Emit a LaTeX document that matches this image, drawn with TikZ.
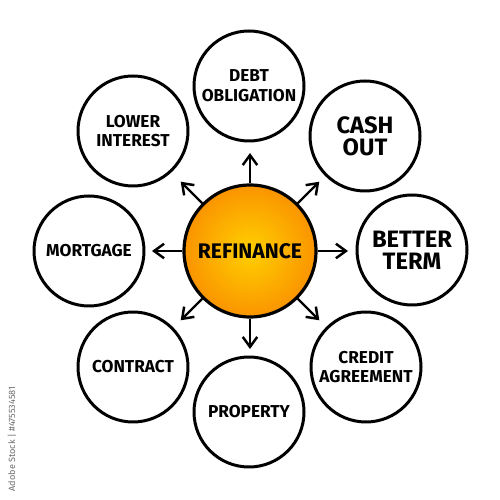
\documentclass[tikz,border=0pt]{standalone}
\usepackage{fontspec}
\setmainfont{Fira Sans}
\usetikzlibrary{arrows.meta}
\definecolor{corein}{RGB}{255,208,0}
\definecolor{coreout}{RGB}{250,148,0}
\definecolor{wmgray}{RGB}{110,110,110}
\tikzset{
  topic/.style={circle, draw=black, line width=1.7pt, minimum size=22mm, inner sep=0pt, align=center,
    font=\bfseries\fontsize{9.8}{11.2}\selectfont},
  bigtopic/.style={topic, font=\bfseries\fontsize{13.5}{12.5}\selectfont},
  core/.style={circle, draw=black, line width=1.8pt, minimum size=26.4mm, inner sep=0pt,
    inner color=corein, outer color=coreout, font=\bfseries\fontsize{12}{14}\selectfont},
  arr/.style={line width=1.4pt, -{Straight Barb[length=2mm,width=2.9mm,line width=1.4pt]}},
}
\begin{document}
\begin{tikzpicture}[x=0.2mm,y=0.2mm]
\useasboundingbox (0,0) rectangle (500,500);
\node[core] (c) at (250,249) {REFINANCE};
\node[topic] (debt) at (249,414) {DEBT\\OBLIGATION};
\node[bigtopic] (cash) at (365,364) {CASH\\OUT};
\node[bigtopic] (better) at (412,250) {BETTER\\TERM};
\node[topic] (credit) at (366,133) {CREDIT\\AGREEMENT};
\node[topic] (property) at (249,88) {PROPERTY};
\node[topic] (contract) at (133,133) {CONTRACT};
\node[topic] (mortgage) at (89,249) {MORTGAGE};
\node[topic] (lower) at (133,369) {LOWER\\INTEREST};
\foreach \a in {90,45,0,-45,-90,-135,180,135}{
  \coordinate (t\a) at ([shift={(\a:98)}]c.center);
  \draw[arr] (c.\a) -- (t\a);
}
\node[rotate=90, text=wmgray, font=\fontsize{5.2}{6}\selectfont, inner sep=0pt] (wm) at (12,61) {Adobe Stock | \#475534581};
\end{tikzpicture}
\end{document}
